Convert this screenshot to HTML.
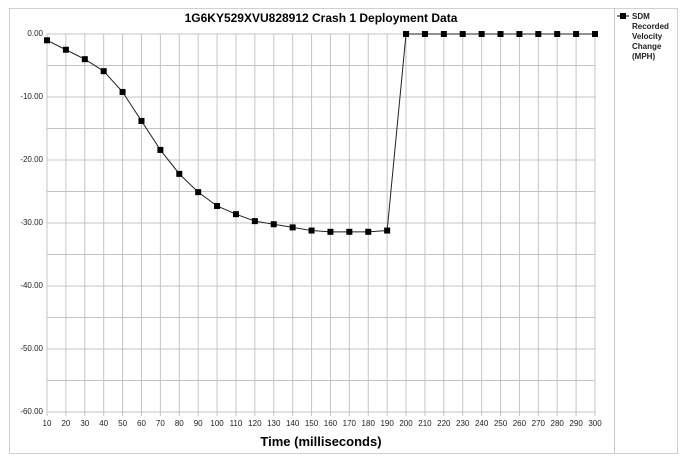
<!DOCTYPE html>
<html><head><meta charset="utf-8"><style>
body{margin:0;background:#fff;font-family:"Liberation Sans",sans-serif;}
svg{display:block}
</style></head><body>
<svg id="c" width="682" height="462">
<rect x="9.5" y="8.5" width="668" height="445" fill="#fff" stroke="#d0d0d0"/>
<line x1="614.5" y1="8" x2="614.5" y2="453" stroke="#c8c8c8"/>
<text x="321" y="22" text-anchor="middle" font-size="12" font-weight="bold">1G6KY529XVU828912  Crash 1 Deployment Data</text>
<text x="321" y="446" text-anchor="middle" font-size="13" font-weight="bold">Time (milliseconds)</text>
<g>
<line x1="617" y1="16" x2="629" y2="16" stroke="#000"/>
<rect x="620" y="13" width="6" height="6" fill="#000"/>
<text font-size="8" font-weight="bold" fill="#222"><tspan x="632" y="19">SDM</tspan><tspan x="632" y="29">Recorded</tspan><tspan x="632" y="39">Velocity</tspan><tspan x="632" y="49">Change</tspan><tspan x="632" y="59">(MPH)</tspan></text>
</g>
<g id="grid"></g><g id="axes"></g><g id="series"></g>
</svg>
<script>
const times=[10,20,30,40,50,60,70,80,90,100,110,120,130,140,150,160,170,180,190,200,210,220,230,240,250,260,270,280,290,300];
const values=[-1.0,-2.5,-4.0,-5.9,-9.2,-13.8,-18.4,-22.2,-25.1,-27.3,-28.6,-29.7,-30.2,-30.7,-31.2,-31.4,-31.4,-31.4,-31.2,0,0,0,0,0,0,0,0,0,0,0];
const yTicks=[0,-10,-20,-30,-40,-50,-60];
const yTickLabels=["0.00","-10.00","-20.00","-30.00","-40.00","-50.00","-60.00"];
const NS="http://www.w3.org/2000/svg";
const X0=47,X1=595,Y0=34,Y1=412;
const xs=t=>X0+(t-10)/(290)*(X1-X0);
const ys=v=>Y0+(0-v)/60*(Y1-Y0);
function mk(tag,attrs,parent){const e=document.createElementNS(NS,tag);for(const k in attrs)e.setAttribute(k,attrs[k]);document.getElementById(parent).appendChild(e);return e;}
for(let v=0;v>=-60;v-=5){
 const l=mk('line',{x1:X0,x2:X1,y1:ys(v),y2:ys(v),stroke:'#c4c4c4','stroke-width':1},'grid');
 
 
}
times.forEach(t=>{
 const l=mk('line',{x1:xs(t),x2:xs(t),y1:Y0,y2:Y1+4,stroke:'#c4c4c4','stroke-width':1},'grid');
 
 
 const tx=mk('text',{x:xs(t),y:Y1+14,'text-anchor':'middle','font-size':8,fill:'#222'},'axes');
 tx.textContent=t;
 
 
});
yTicks.forEach((v,i)=>{
 const tx=mk('text',{x:X0-4,y:ys(v)+2,'text-anchor':'end','font-size':8,fill:'#222'},'axes');
 tx.textContent=yTickLabels[i];
 
 
});
const pl=mk('polyline',{points:times.map((t,i)=>xs(t)+','+ys(values[i])).join(' '),fill:'none',stroke:'#222','stroke-width':1},'series');


times.forEach((t,i)=>{
 const r=mk('rect',{x:xs(t)-3,y:ys(values[i])-3,width:6,height:6,fill:'#000'},'series');
 
 
});
</script>
</body></html>
